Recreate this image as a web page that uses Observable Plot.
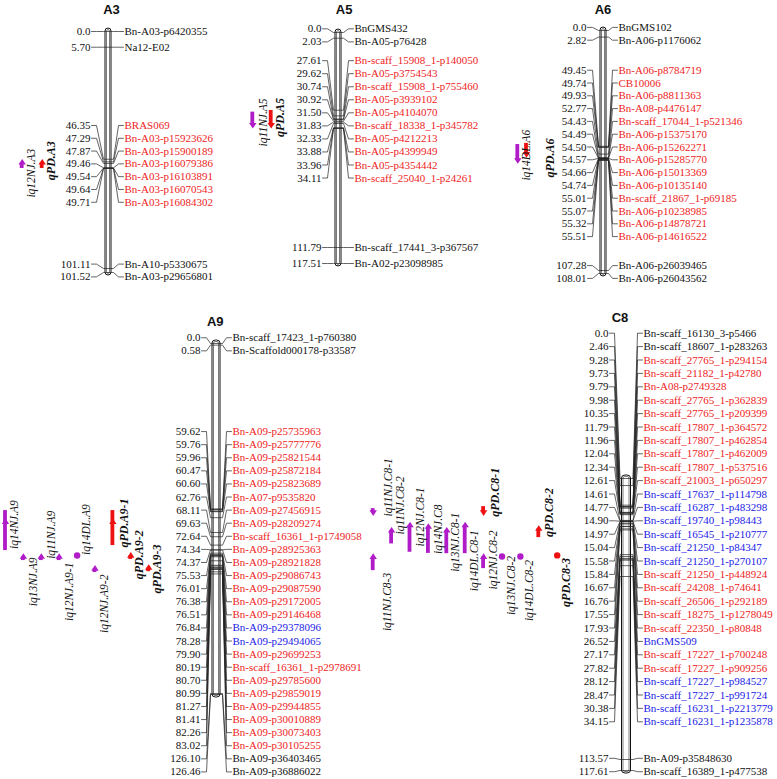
<!DOCTYPE html>
<html><head><meta charset="utf-8">
<script src="https://cdn.jsdelivr.net/npm/d3@7"></script>
<script src="https://cdn.jsdelivr.net/npm/@observablehq/plot@0.6"></script>
<style>body{margin:0;background:#fff}</style>
</head><body>
<script>
// ---------------- DATA ----------------
const chromIds = ["A3","A5","A6","A9","C8"];

const A3_pos = [0.0, 5.70, 46.35, 47.29, 47.87, 49.46, 49.54, 49.64, 49.71, 101.11, 101.52];
const A3_names = ["Bn-A03-p6420355","Na12-E02","BRAS069","Bn-A03-p15923626","Bn-A03-p15900189","Bn-A03-p16079386","Bn-A03-p16103891","Bn-A03-p16070543","Bn-A03-p16084302","Bn-A10-p5330675","Bn-A03-p29656801"];
const A3_types = ["n","n","r","r","r","r","r","r","r","n","n"];

const A5_pos = [0.0, 2.03, 27.61, 29.62, 30.74, 30.92, 31.50, 31.83, 32.33, 33.88, 33.96, 34.11, 111.79, 117.51];
const A5_names = ["BnGMS432","Bn-A05-p76428","Bn-scaff_15908_1-p140050","Bn-A05-p3754543","Bn-scaff_15908_1-p755460","Bn-A05-p3939102","Bn-A05-p4104070","Bn-scaff_18338_1-p345782","Bn-A05-p4212213","Bn-A05-p4399949","Bn-A05-p4354442","Bn-scaff_25040_1-p24261","Bn-scaff_17441_3-p367567","Bn-A02-p23098985"];
const A5_types = ["n","n","r","r","r","r","r","r","r","r","r","r","n","n"];

const A6_pos = [0.0, 2.82, 49.45, 49.74, 49.93, 52.77, 54.43, 54.49, 54.50, 54.57, 54.66, 54.74, 55.01, 55.07, 55.32, 55.51, 107.28, 108.01];
const A6_names = ["BnGMS102","Bn-A06-p1176062","Bn-A06-p8784719","CB10006","Bn-A06-p8811363","Bn-A08-p4476147","Bn-scaff_17044_1-p521346","Bn-A06-p15375170","Bn-A06-p15262271","Bn-A06-p15285770","Bn-A06-p15013369","Bn-A06-p10135140","Bn-scaff_21867_1-p69185","Bn-A06-p10238985","Bn-A06-p14878721","Bn-A06-p14616522","Bn-A06-p26039465","Bn-A06-p26043562"];
const A6_types = ["n","n","r","r","r","r","r","r","r","r","r","r","r","r","r","r","n","n"];

const A9_pos = [0.0, 0.58, 59.62, 59.76, 59.96, 60.47, 60.60, 62.76, 68.11, 69.63, 72.64, 74.34, 74.37, 75.53, 76.01, 76.38, 76.51, 76.84, 78.28, 79.90, 80.19, 80.70, 80.99, 81.27, 81.41, 82.26, 83.02, 126.10, 126.46];
const A9_names = ["Bn-scaff_17423_1-p760380","Bn-Scaffold000178-p33587","Bn-A09-p25735963","Bn-A09-p25777776","Bn-A09-p25821544","Bn-A09-p25872184","Bn-A09-p25823689","Bn-A07-p9535820","Bn-A09-p27456915","Bn-A09-p28209274","Bn-scaff_16361_1-p1749058","Bn-A09-p28925363","Bn-A09-p28921828","Bn-A09-p29086743","Bn-A09-p29087590","Bn-A09-p29172005","Bn-A09-p29146468","Bn-A09-p29378096","Bn-A09-p29494065","Bn-A09-p29699253","Bn-scaff_16361_1-p2978691","Bn-A09-p29785600","Bn-A09-p29859019","Bn-A09-p29944855","Bn-A09-p30010889","Bn-A09-p30073403","Bn-A09-p30105255","Bn-A09-p36403465","Bn-A09-p36886022"];
const A9_types = ["n","n","r","r","r","r","r","r","r","r","r","r","r","r","r","r","r","b","b","r","r","r","r","r","r","r","r","n","n"];

const C8_pos = [0.0, 2.46, 9.28, 9.73, 9.79, 9.98, 10.35, 11.79, 11.96, 12.04, 12.34, 12.61, 14.61, 14.77, 14.90, 14.97, 15.04, 15.58, 15.84, 16.67, 16.76, 17.55, 17.93, 26.52, 27.17, 27.82, 28.12, 28.47, 30.38, 34.15, 113.57, 117.61];
const C8_names = ["Bn-scaff_16130_3-p5466","Bn-scaff_18607_1-p283263","Bn-scaff_27765_1-p294154","Bn-scaff_21182_1-p42780","Bn-A08-p2749328","Bn-scaff_27765_1-p362839","Bn-scaff_27765_1-p209399","Bn-scaff_17807_1-p364572","Bn-scaff_17807_1-p462854","Bn-scaff_17807_1-p462009","Bn-scaff_17807_1-p537516","Bn-scaff_21003_1-p650297","Bn-scaff_17637_1-p114798","Bn-scaff_16287_1-p483298","Bn-scaff_19740_1-p98443","Bn-scaff_16545_1-p210777","Bn-scaff_21250_1-p84347","Bn-scaff_21250_1-p270107","Bn-scaff_21250_1-p448924","Bn-scaff_24208_1-p74641","Bn-scaff_26506_1-p292189","Bn-scaff_18275_1-p1278049","Bn-scaff_22350_1-p80848","BnGMS509","Bn-scaff_17227_1-p700248","Bn-scaff_17227_1-p909256","Bn-scaff_17227_1-p984527","Bn-scaff_17227_1-p991724","Bn-scaff_16231_1-p2213779","Bn-scaff_16231_1-p1235878","Bn-A09-p35848630","Bn-scaff_16389_1-p477538"];
const C8_types = ["n","n","r","r","r","r","r","r","r","r","r","r","b","b","b","b","b","b","r","r","r","r","r","b","r","r","b","b","b","b","n","n"];

// QTLs (cM positions)
const qtlName  = ["iq12NJ.A3","qPD.A3","iq11NJ.A5","qPD.A5","iq14DL.A6","qPD.A6",
  "iq14NJ.A9","iq13NJ.A9","iq11NJ.A9","iq12NJ.A9-1","iq14DL.A9","iq12NJ.A9-2","qPD.A9-1","qPD.A9-2","qPD.A9-3",
  "iq11NJ.C8-1","iq11NJ.C8-3","iq11NJ.C8-2","iq12NJ.C8-1","iq14NJ.C8","iq13NJ.C8-1","iq14DL.C8-1","qPD.C8-1","iq12NJ.C8-2","iq13NJ.C8-2","iq14DL.C8-2","qPD.C8-2","qPD.C8-3"];
const qtlChrom = ["A3","A3","A5","A5","A6","A6","A9","A9","A9","A9","A9","A9","A9","A9","A9",
  "C8","C8","C8","C8","C8","C8","C8","C8","C8","C8","C8","C8","C8"];
const qtlStart = [47.6,47.6, 28.3,27.7, 48.7,48.2, 60.2,76.9,76.9,76.9,76.4,81.2,60.2,76.5,80.9, 10.5,27.4,18.2,16.4,16.9,18.2,16.4,9.8,27.4,27.2,27.2,17.6,26.8];
const qtlEnd   = [49.7,49.7, 32.8,32.8, 55.3,52.7, 74.6,78.2,78.2,78.2,76.4,82.5,72.8,77.8,82.2, 11.7,32.1,22.8,25.7,26.1,26.2,26.2,11.7,31.4,27.2,27.2,20.6,26.8];
const qtlPeak  = [47.6,47.6, 32.8,32.8, 55.3,52.7, 64.4,76.9,76.9,76.9,76.4,81.2,64.4,76.5,80.9, 11.7,27.4,18.2,16.4,16.9,18.2,16.4,11.7,27.4,27.2,27.2,17.6,26.8];
const qtlDir   = ["up","up","down","down","down","down","up","up","up","up","none","up","up","up","up",
  "down","up","up","up","up","up","up","down","up","none","none","up","none"];

// ---------------- LAYOUT ----------------
const layout = {
  A3: {cx:108, w:6, tx:111, ty:9, domain:[0,49.71,101.11,101.52], range:[31,168,268,272], s:12.8, leftEnd:90, rightStart:124, qx0:21.7, qdx:20},
  A5: {cx:338, w:6, tx:343.6, ty:9, domain:[0,34.11,111.79,117.51], range:[32,128,247,263], s:13.04, leftEnd:321, rightStart:354, qx0:252.3, qdx:18.4},
  A6: {cx:603, w:6, tx:602.5, ty:9, domain:[0,55.51,107.28,108.01], range:[30,160,270,273], s:12.8, leftEnd:586, rightStart:618, qx0:517.3, qdx:8.7},
  A9: {cx:216, w:8, tx:214.7, ty:321, domain:[0,126.46], range:[343,694], s:13.09, leftEnd:200, rightStart:232, qx0:5, qdx:17.9},
  C8: {cx:626, w:9, tx:619.5, ty:317.7, domain:[0,34.15,113.57,117.61], range:[478,576,759,770], s:13.4, leftEnd:608, rightStart:643, qx0:372.7, qdx:18.4}
};
const qtlCol     = [0,1, 0,1, 0,1, 0,1,2,3,4,5,6,7,8, 0,0,1,2,3,4,5,6,6,7,8,9,10];
const qtlLabelDx = [9,9, 11,9, 9,24, 9,10,10,10,9,9,11,8,8, 15,14,9,10,10,9,9,12,10,9,9,10,9];
const qtlLabelDy = [9.5,-3, 2,-2, 1,7.5, -6,25,-22,35,-26,35,-5,-1,1, -25,40,-30,-20,-9,2,23,-19,-1,29,34,-19,27];

const SERIF = "'Liberation Serif','Times New Roman',serif";
const SANS = "'Liberation Sans',Arial,sans-serif";
const TXT = {n:"#111111", r:"#ee1c1c", b:"#1a1ae6"};
const PURPLE = "#b01cc8", RED = "#ee1111";

const chroms = {
  A3:{pos:A3_pos,names:A3_names,types:A3_types},
  A5:{pos:A5_pos,names:A5_names,types:A5_types},
  A6:{pos:A6_pos,names:A6_names,types:A6_types},
  A9:{pos:A9_pos,names:A9_names,types:A9_types},
  C8:{pos:C8_pos,names:C8_names,types:C8_types}
};

// label spreading: clusters centred on the midpoint of their markers' range
function spread(ys, s) {
  let cl = ys.map((y,i)=>({a:i,b:i,lo:y,hi:y}));
  const ext = c => { const n=c.b-c.a+1, m=(c.lo+c.hi)/2; return {top:m-(n-1)*s/2, bot:m+(n-1)*s/2}; };
  let merged = true;
  while (merged) {
    merged = false;
    for (let k=0;k<cl.length-1;k++) {
      const p=ext(cl[k]), q=ext(cl[k+1]);
      if (q.top - p.bot < s - 1e-6) {
        cl.splice(k,2,{a:cl[k].a,b:cl[k+1].b,lo:Math.min(cl[k].lo,cl[k+1].lo),hi:Math.max(cl[k].hi,cl[k+1].hi)});
        merged = true; break;
      }
    }
  }
  const out=[];
  for (const c of cl) { const e=ext(c); for (let i=c.a;i<=c.b;i++) out[i]=e.top+(i-c.a)*s; }
  return out;
}
const fmt = v => v === 0 ? "0.0" : v.toFixed(2);

const scales = {};
const bars=[], inner=[], links=[], nums=[], names=[], titles=[];
for (const id of chromIds) {
  const c = chroms[id], L = layout[id];
  const ys = d3.scaleLinear().domain(L.domain).range(L.range);
  scales[id] = ys;
  const yb = c.pos.map(p => ys(p));
  const yl = spread(yb, L.s);
  const x1 = L.cx - L.w/2, x2 = L.cx + L.w/2;
  const top = ys(0), bot = ys(d3.max(c.pos));
  bars.push({x1, x2, y1: top-3, y2: bot+3});
  inner.push({x1: x1+1.5, x2: x2-1.5, y1: top-1.5, y2: bot+1.5});
  c.pos.forEach((p,i) => {
    const k = id+"_"+i;
    links.push({k,x:L.leftEnd+1,y:yl[i]},{k,x:L.leftEnd+6,y:yl[i]},{k,x:x1-2,y:yb[i]},
               {k,x:x2+2,y:yb[i]},{k,x:L.rightStart-6,y:yl[i]},{k,x:L.rightStart-1,y:yl[i]});
    nums.push({x:L.leftEnd, y:yl[i], t:fmt(p)});
    names.push({x:L.rightStart, y:yl[i], t:c.names[i], fill:TXT[c.types[i]]});
  });
  titles.push({x:L.tx, y:L.ty, t:id});
}

// QTL glyphs
const qtls = qtlName.map((name,i) => {
  const L = layout[qtlChrom[i]], ys = scales[qtlChrom[i]];
  const x = L.qx0 + qtlCol[i]*L.qdx;
  const yS = ys(qtlStart[i]), yE = ys(qtlEnd[i]), yP = ys(qtlPeak[i]);
  const dir = qtlDir[i];
  let lo = Math.min(yS, yP), hi = Math.max(yE, yP);
  if (dir==="up") lo = Math.min(lo, yP-3.8);
  if (dir==="down") hi = Math.max(hi, yP+3.8);
  if (dir==="none") { lo = yP-3.2; hi = yP+3.2; }
  const color = name.startsWith("qPD") ? RED : PURPLE;
  return {name, x, yS, yE, yP, dir, color, lx: x + qtlLabelDx[i], ly: (lo+hi)/2 + qtlLabelDy[i], qpd: name.startsWith("qPD")};
});
const qBars = qtls.filter(q => q.dir!=="none" && q.yE - q.yS > 0.5);
const triUp = {draw(ctx){ ctx.moveTo(0,-3.8); ctx.lineTo(3.7,1.8); ctx.lineTo(-3.7,1.8); ctx.closePath(); }};
const triDown = {draw(ctx){ ctx.moveTo(0,3.8); ctx.lineTo(3.7,-1.8); ctx.lineTo(-3.7,-1.8); ctx.closePath(); }};

const chart = Plot.plot({
  width: 777, height: 779, margin: 0,
  x: {domain:[0,777], range:[0,777], axis:null},
  y: {domain:[0,779], range:[0,779], axis:null},
  color: {type:"identity"},
  style: {background:"white"},
  marks: [
    Plot.rect(bars, {x1:"x1", x2:"x2", y1:"y1", y2:"y2", fill:"white", stroke:"#111", strokeWidth:1, rx:3.5, ry:3}),
    Plot.line(links, {x:"x", y:"y", z:"k", stroke:"#222", strokeWidth:0.7}),
    Plot.rect(inner, {x1:"x1", x2:"x2", y1:"y1", y2:"y2", fill:"none", stroke:"#222", strokeWidth:0.6, rx:1.5, ry:2}),
    Plot.text(nums, {x:"x", y:"y", text:"t", textAnchor:"end", fontFamily:SERIF, fontSize:11, fill:"#111"}),
    Plot.text(names, {x:"x", y:"y", text:"t", textAnchor:"start", fontFamily:SERIF, fontSize:11, fill:"fill"}),
    Plot.text(titles, {x:"x", y:"y", text:"t", fontFamily:SANS, fontSize:13, fontWeight:"bold", fill:"#111"}),
    Plot.rect(qBars, {x1: d=>d.x-1.9, x2: d=>d.x+1.9, y1:"yS", y2:"yE", fill:"color"}),
    Plot.dot(qtls.filter(q=>q.dir==="up"), {x:"x", y:"yP", symbol:triUp, r:4, fill:"color", stroke:null}),
    Plot.dot(qtls.filter(q=>q.dir==="down"), {x:"x", y:"yP", symbol:triDown, r:4, fill:"color", stroke:null}),
    Plot.dot(qtls.filter(q=>q.dir==="none"), {x:"x", y:"yP", r:3.2, fill:"color", stroke:null}),
    Plot.text(qtls.filter(q=>!q.qpd), {x:"lx", y:"ly", text:"name", rotate:-90, fontFamily:SERIF, fontSize:11.5, fontStyle:"italic", fill:"#111"}),
    Plot.text(qtls.filter(q=>q.qpd), {x:"lx", y:"ly", text:"name", rotate:-90, fontFamily:SERIF, fontSize:12, fontStyle:"italic", fontWeight:"bold", fill:"#111"})
  ]
});
document.body.appendChild(chart);
</script>
</body></html>
